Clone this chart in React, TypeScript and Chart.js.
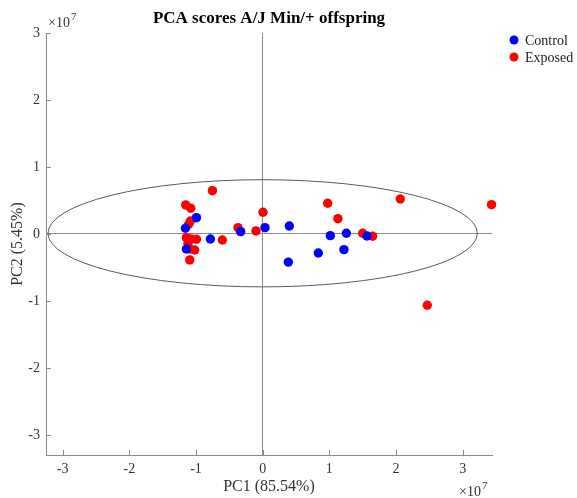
import React, { useEffect, useRef } from "react";
import { Chart, registerables } from "chart.js";

Chart.register(...registerables);

// PCA scores (units of 1e7)
const controlX = [-0.994, -1.159, -0.784, -1.144, -0.33, 0.035, 0.4, 0.385, 1.015, 1.255, 1.564, 0.835, 1.219];
const controlY = [0.243, 0.085, -0.075, -0.224, 0.034, 0.094, 0.119, -0.42, -0.025, 0.01, -0.03, -0.284, -0.234];

const exposedX = [-0.754, -1.154, -1.079, -1.084, -1.109, -0.37, -0.1, 0.005, -1.144, -1.069, -0.994, -1.12, -0.604, -1.094, -1.019, -1.094, 0.975, 1.129, 1.5, 1.649, 2.064, 3.433, 2.469];
const exposedY = [0.646, 0.433, 0.383, 0.194, 0.145, 0.094, 0.045, 0.324, -0.055, -0.075, -0.079, -0.139, -0.09, -0.224, -0.239, -0.388, 0.458, 0.228, 0.01, -0.034, 0.522, 0.437, -1.064];

const xTicks = [-3, -2, -1, 0, 1, 2, 3];
const yTicks = [-3, -2, -1, 0, 1, 2, 3];

const ellipseCenter = [0, 0.01];
const ellipseRadii = [3.22, 0.8];

const seriesNames = ["Control", "Exposed"];
const seriesColors = ["#0000ff", "#ff0000"];

const titleText = "PCA scores A/J Min/+ offspring";
const xTitle = "PC1 (85.54%)";
const yTitle = "PC2 (5.45%)";

const SERIF = "'Liberation Serif', 'Times New Roman', serif";
const AXIS_COLOR = "#8a8a8a";

const toPoints = (xs: number[], ys: number[]) => xs.map((x, i) => ({ x, y: ys[i] }));

const decorPlugin = {
  id: "decor",
  beforeDatasetsDraw(chart: any) {
    const { ctx, scales } = chart;
    const xs = scales.x;
    const ys = scales.y;
    const cx = xs.getPixelForValue(ellipseCenter[0]);
    const cy = ys.getPixelForValue(ellipseCenter[1]);
    const rx = Math.abs(xs.getPixelForValue(ellipseCenter[0] + ellipseRadii[0]) - cx);
    const ry = Math.abs(ys.getPixelForValue(ellipseCenter[1] + ellipseRadii[1]) - cy);
    ctx.save();
    ctx.strokeStyle = "#5a5a5a";
    ctx.lineWidth = 1;
    ctx.beginPath();
    ctx.ellipse(cx, cy, rx, ry, 0, 0, Math.PI * 2);
    ctx.stroke();
    // inner tick marks
    ctx.strokeStyle = AXIS_COLOR;
    const area = chart.chartArea;
    ctx.beginPath();
    xTicks.forEach((v) => {
      const px = Math.round(xs.getPixelForValue(v)) + 0.5;
      ctx.moveTo(px, area.bottom);
      ctx.lineTo(px, area.bottom - 5);
    });
    yTicks.forEach((v) => {
      const py = Math.round(ys.getPixelForValue(v)) + 0.5;
      ctx.moveTo(area.left, py);
      ctx.lineTo(area.left + 5, py);
    });
    ctx.stroke();
    ctx.restore();
  },
  afterDraw(chart: any) {
    const { ctx, chartArea } = chart;
    ctx.save();
    // title
    ctx.fillStyle = "#000";
    ctx.font = `bold 17px ${SERIF}`;
    ctx.textAlign = "center";
    ctx.textBaseline = "alphabetic";
    ctx.fillText(titleText, (chartArea.left + chartArea.right) / 2, 23);
    // x10^7 labels
    ctx.fillStyle = "#333";
    ctx.textAlign = "left";
    const exp = (x: number, y: number) => {
      ctx.font = `14px ${SERIF}`;
      ctx.fillText("\u00d710", x, y);
      const w = ctx.measureText("\u00d710").width;
      ctx.font = `11px ${SERIF}`;
      ctx.fillText("7", x + w + 1, y - 7);
    };
    exp(chartArea.left + 2, 27);
    exp(chartArea.right - 33, 496);
    // legend
    ctx.font = `14px ${SERIF}`;
    ctx.textBaseline = "middle";
    seriesNames.forEach((name, i) => {
      const y = 40 + i * 17;
      ctx.fillStyle = seriesColors[i];
      ctx.beginPath();
      ctx.arc(514, y, 4.5, 0, Math.PI * 2);
      ctx.fill();
      ctx.fillStyle = "#222";
      ctx.fillText(name, 525, y + 1);
    });
    ctx.restore();
  },
};

export default function App() {
  const canvasRef = useRef<HTMLCanvasElement | null>(null);

  useEffect(() => {
    const canvas = canvasRef.current;
    if (!canvas) return;
    const zeroColor = (ctx: any) => (ctx.tick && ctx.tick.value === 0 ? AXIS_COLOR : "rgba(0,0,0,0)");
    const chart = new Chart(canvas, {
      type: "scatter",
      data: {
        datasets: [
          {
            label: seriesNames[0],
            data: toPoints(controlX, controlY),
            backgroundColor: seriesColors[0],
            borderWidth: 0,
            pointRadius: 4.7,
            clip: false,
          },
          {
            label: seriesNames[1],
            data: toPoints(exposedX, exposedY),
            backgroundColor: seriesColors[1],
            borderWidth: 0,
            pointRadius: 4.7,
            clip: false,
          },
        ],
      },
      options: {
        animation: false,
        responsive: false,
        devicePixelRatio: 1,
        layout: { padding: { left: 0, right: 85, top: 33, bottom: 0 } },
        plugins: {
          legend: { display: false },
          tooltip: { enabled: false },
          title: { display: false },
        },
        scales: {
          x: {
            type: "linear",
            min: -3.25,
            max: 3.44,
            afterBuildTicks: (s: any) => {
              s.ticks = xTicks.map((v) => ({ value: v }));
            },
            afterFit: (s: any) => {
              s.height = 43;
            },
            grid: { color: zeroColor, drawTicks: false, lineWidth: 1 },
            border: { color: AXIS_COLOR, width: 1 },
            ticks: {
              color: "#333",
              font: { family: SERIF, size: 14 },
              padding: 6,
              callback: (v: any) => String(v),
            },
            title: {
              display: true,
              text: xTitle,
              color: "#333",
              font: { family: SERIF, size: 16 },
              padding: { top: 0, bottom: 2 },
            },
          },
          y: {
            type: "linear",
            min: -3.3,
            max: 3,
            afterBuildTicks: (s: any) => {
              s.ticks = yTicks.map((v) => ({ value: v }));
            },
            afterFit: (s: any) => {
              s.width = 46;
            },
            grid: { color: zeroColor, drawTicks: false, lineWidth: 1 },
            border: { color: AXIS_COLOR, width: 1 },
            ticks: {
              color: "#333",
              font: { family: SERIF, size: 14 },
              padding: 6,
              callback: (v: any) => String(v),
            },
            title: {
              display: true,
              text: yTitle,
              color: "#333",
              font: { family: SERIF, size: 16 },
              padding: { top: 8, bottom: 0 },
            },
          },
        },
      },
      plugins: [decorPlugin],
    } as any);
    return () => chart.destroy();
  }, []);

  return (
    <div style={{ position: "absolute", left: 0, top: 0, width: 577, height: 498, background: "#fff" }}>
      <canvas ref={canvasRef} width={577} height={498} />
    </div>
  );
}
